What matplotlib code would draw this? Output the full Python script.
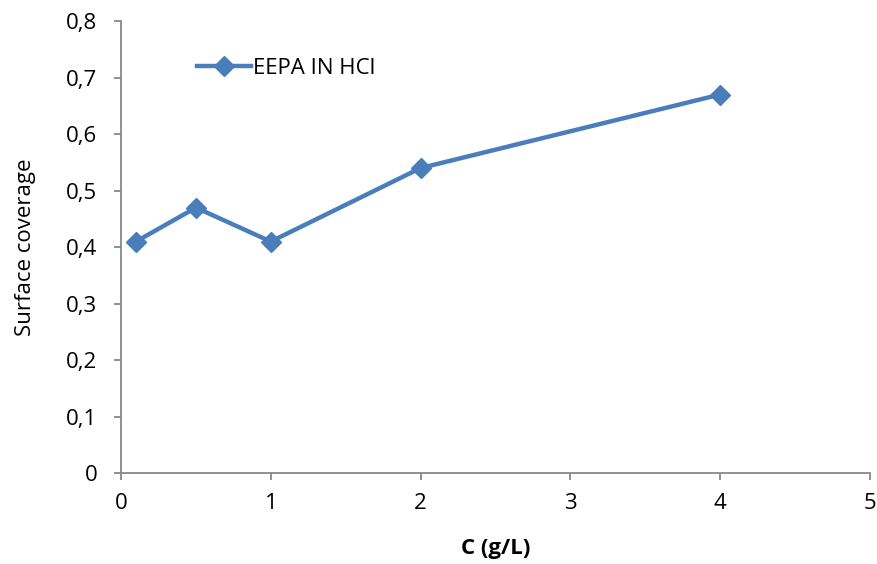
import matplotlib
matplotlib.use("Agg")
import matplotlib.pyplot as plt

# Data
conc = [0.1, 0.5, 1, 2, 4]
coverage = [0.41, 0.47, 0.41, 0.54, 0.67]
x_ticks = [0, 1, 2, 3, 4, 5]
y_ticks = [0, 0.1, 0.2, 0.3, 0.4, 0.5, 0.6, 0.7, 0.8]
y_tick_labels = ["0", "0,1", "0,2", "0,3", "0,4", "0,5", "0,6", "0,7", "0,8"]

plt.rcParams['font.family'] = ['Open Sans', 'DejaVu Sans']

fig = plt.figure(figsize=(8.77, 5.64), dpi=100)
ax = fig.add_axes([0.138, 0.1605, 0.854, 0.8023])

ax.plot(conc, coverage, color='#4A7EBB', linewidth=3.2, marker='D',
        markersize=10, label='EEPA IN HCl', clip_on=False)

ax.set_xlim(0, 5)
ax.set_ylim(0, 0.8)
ax.set_xticks(x_ticks)
ax.set_yticks(y_ticks)
ax.set_yticklabels(y_tick_labels)

for side in ['top', 'right']:
    ax.spines[side].set_visible(False)
for side in ['left', 'bottom']:
    ax.spines[side].set_color('#888888')
    ax.spines[side].set_linewidth(1.3)
ax.tick_params(axis='both', direction='out', length=5, width=1.3,
               color='#888888', labelsize=16, labelcolor='black')
ax.tick_params(axis='x', pad=9)
ax.tick_params(axis='y', pad=12)

ax.set_xlabel('C (g/L)', fontsize=16, fontweight='bold', labelpad=17)
ax.set_ylabel('Surface coverage', fontsize=16, labelpad=22)

ax.legend(loc='center left', bbox_to_anchor=(0.075, 0.895), frameon=False,
          fontsize=16, handlelength=2.4, handletextpad=0.1)

fig.savefig('out.png', dpi=100)
